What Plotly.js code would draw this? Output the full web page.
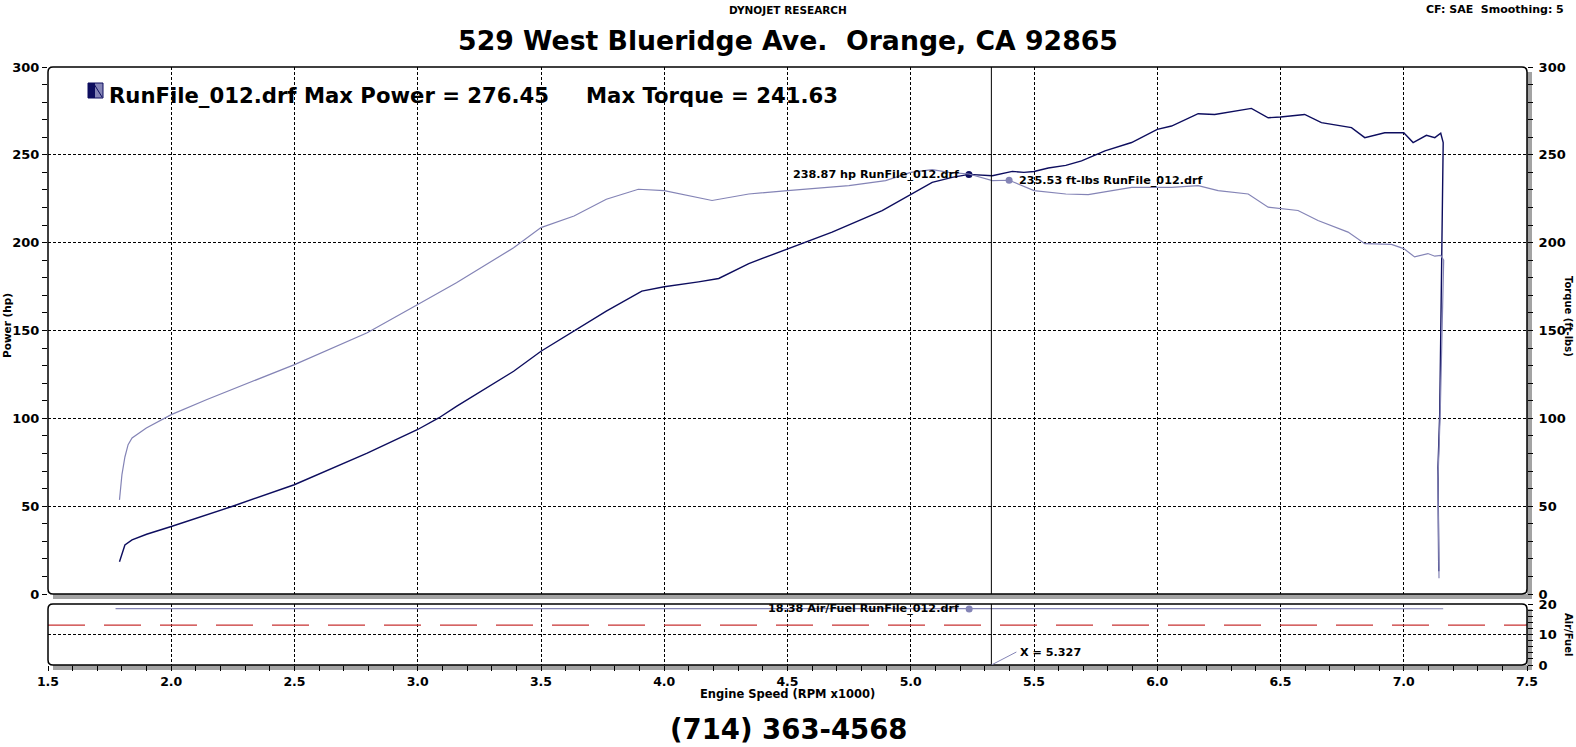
<!DOCTYPE html>
<html>
<head>
<meta charset="utf-8">
<script src="https://cdn.plot.ly/plotly-3.0.1.min.js"></script>
<style>html,body{margin:0;padding:0;background:#fff;}#chart{width:1576px;height:747px;}</style>
</head>
<body>
<div id="chart"></div>
<script>
// ---- data ----
const rpmPower = [1.790,1.812,1.841,1.900,2.000,2.246,2.499,2.795,2.998,3.085,3.157,3.389,3.500,3.634,3.765,3.909,4.000,4.139,4.221,4.343,4.500,4.681,4.884,5.000,5.087,5.168,5.236,5.331,5.412,5.459,5.500,5.558,5.629,5.693,5.788,5.896,6.000,6.058,6.166,6.233,6.382,6.450,6.500,6.598,6.666,6.788,6.842,6.923,7.000,7.038,7.092,7.126,7.150,7.160,7.158,7.153,7.146,7.139,7.140,7.142];
const powerHp = [18.4,27.9,30.8,34.0,38.4,49.8,62.2,80.2,93.5,100.2,106.8,126.8,138.2,149.6,161.0,172.4,174.9,177.7,179.6,188.1,196.6,206.0,218.3,227.7,234.3,237.2,238.87,238.1,240.6,240.0,240.5,242.5,244.0,246.6,252.3,257.0,264.5,266.4,273.4,273.0,276.45,271.1,271.5,273.0,268.3,265.5,259.8,262.6,262.6,257.0,261.1,259.8,262.3,257.0,230.0,160.0,103.0,72.0,40.0,13.0];

const rpmTorque = [1.790,1.800,1.812,1.825,1.841,1.899,2.000,2.145,2.500,2.795,3.000,3.157,3.389,3.500,3.634,3.765,3.895,3.979,4.000,4.194,4.343,4.500,4.749,4.898,5.000,5.087,5.155,5.236,5.331,5.399,5.500,5.629,5.720,5.896,6.058,6.166,6.247,6.369,6.450,6.571,6.652,6.774,6.842,6.950,7.000,7.044,7.098,7.126,7.150,7.162,7.158,7.148,7.139,7.143];
const torqueFtLbs = [53.6,68.0,78.0,85.0,88.8,94.5,102.1,110.7,130.6,148.7,164.8,177.2,197.1,208.6,215.2,224.7,230.4,229.8,229.6,224.0,227.7,229.6,232.5,235.3,240.0,241.63,240.0,239.1,235.3,235.53,229.6,227.7,227.4,231.5,231.5,232.5,229.6,227.7,220.2,218.3,212.6,206.0,199.4,199.0,196.6,191.9,193.8,192.3,192.8,190.0,160.0,103.5,66.0,9.0];

const rpmAirFuel = [1.774,2.5,3.5,4.5,5.237,6.0,7.0,7.160];
const airFuel = [18.5,18.5,18.45,18.4,18.38,18.4,18.45,18.45];

const afTargetRpm = [1.5,7.5];
const afTarget = [13.1,13.1];

const cursorX = 5.327;
const cursorPower = {rpm:5.236, value:238.87};
const cursorTorque = {rpm:5.399, value:235.53};
const cursorAF = {rpm:5.237, value:18.38};

const maxPower = 276.45, maxTorque = 241.63;
const runName = "RunFile_012.drf";

const xTicks = [1.5,2.0,2.5,3.0,3.5,4.0,4.5,5.0,5.5,6.0,6.5,7.0,7.5];

// ---- layout helpers (pixel -> paper) ----
const W = 1576, H = 747, ML = 48, MR = 49, MT = 67, MB = 82;
const PW = W - ML - MR, PH = H - MT - MB;
const px = x => (x - ML) / PW;
const py = y => (H - MB - y) / PH;

const NAVY = '#0d0d5e', LILAC = '#8484b6', RED = '#c83232', SHADOW = '#a3a3a3';
const FONT = 'DejaVu Sans';
const f = (size, extra) => Object.assign({family: FONT, size: size, color: '#000', weight: 700}, extra || {});

function roundRect(x0, y0, x1, y1, r) {
  const rx = r / PW, ry = r / PH;
  const a = px(x0), b = px(x1), t = py(y0), u = py(y1);
  return `M ${a+rx},${t} L ${b-rx},${t} Q ${b},${t} ${b},${t-ry} L ${b},${u+ry} Q ${b},${u} ${b-rx},${u} L ${a+rx},${u} Q ${a},${u} ${a},${u+ry} L ${a},${t-ry} Q ${a},${t} ${a+rx},${t} Z`;
}
function rectPx(x0, y0, x1, y1, color) {
  return {type:'rect', xref:'paper', yref:'paper', x0:px(x0), x1:px(x1), y0:py(y1), y1:py(y0), fillcolor:color, line:{width:0}, layer:'below'};
}

const mainTop = 67, mainBot = 594, lowTop = 604, lowBot = 665;

const traces = [
  {x: rpmTorque, y: torqueFtLbs, yaxis:'y2', xaxis:'x', mode:'lines', line:{color:LILAC, width:1.2}, name:'Torque'},
  {x: rpmPower, y: powerHp, yaxis:'y', xaxis:'x', mode:'lines', line:{color:NAVY, width:1.4}, name:'Power'},
  {x: afTargetRpm, y: afTarget, yaxis:'y3', xaxis:'x', mode:'lines', line:{color:RED, width:1.3, dash:'37px,19px'}, name:'Target'},
  {x: rpmAirFuel, y: airFuel, yaxis:'y3', xaxis:'x', mode:'lines', line:{color:LILAC, width:1.2}, name:'Air/Fuel'},
  {x:[cursorPower.rpm], y:[cursorPower.value], yaxis:'y', mode:'markers', marker:{color:NAVY, size:7}},
  {x:[cursorTorque.rpm], y:[cursorTorque.value], yaxis:'y2', mode:'markers', marker:{color:LILAC, size:7}},
  {x:[cursorAF.rpm], y:[cursorAF.value], yaxis:'y3', mode:'markers', marker:{color:LILAC, size:7}}
];

const gridStyle = {showgrid:true, gridcolor:'#000', gridwidth:1, griddash:'3px,2px'};

const layout = {
  width: W, height: H,
  margin: {l:ML, r:MR, t:MT, b:MB, pad:0},
  paper_bgcolor:'#fff', plot_bgcolor:'#fff',
  showlegend:false,
  title: {text:'529 West Blueridge Ave.\u00a0\u00a0Orange, CA 92865', x:0.5, xref:'container', xanchor:'center', y:1-41/H, yref:'container', yanchor:'middle', font:f(26.7)},
  xaxis: Object.assign({
    domain:[0,1], anchor:'y3', range:[1.5,7.5], tickvals:xTicks, tickformat:'.1f',
    ticks:'outside', ticklen:5, tickcolor:'#000', tickwidth:1, ticklabelstandoff:0,
    minor:{dtick:0.1, ticks:'outside', ticklen:5, tickcolor:'#000', showgrid:false},
    showline:false, zeroline:false, tickfont:f(12.5)
  }, gridStyle),
  yaxis: Object.assign({
    domain:[py(mainBot), 1], anchor:'x', range:[0,300], dtick:50, side:'left',
    ticks:'outside', ticklen:5, tickcolor:'#000',
    minor:{dtick:10, ticks:'outside', ticklen:5, tickcolor:'#000', showgrid:false},
    showline:false, zeroline:false, tickfont:f(13)
  }, gridStyle),
  yaxis2: {
    overlaying:'y', side:'right', anchor:'x', range:[0,300], dtick:50, showgrid:false,
    ticks:'outside', ticklen:5, tickcolor:'#000', ticklabelstandoff:3,
    minor:{dtick:10, ticks:'outside', ticklen:5, tickcolor:'#000', showgrid:false},
    showline:false, zeroline:false, tickfont:f(13)
  },
  yaxis3: Object.assign({
    domain:[0, py(lowTop)], anchor:'x', side:'right', range:[0,20], dtick:10,
    ticks:'outside', ticklen:5, tickcolor:'#000', ticklabelstandoff:3,
    minor:{dtick:2, ticks:'outside', ticklen:5, tickcolor:'#000', showgrid:false},
    showline:false, zeroline:false, tickfont:f(13)
  }, gridStyle),
  shapes: [
    rectPx(1527, 72, 1532, 599, SHADOW),
    rectPx(53, 594, 1532, 599, SHADOW),
    rectPx(1527, 609, 1532, 670, SHADOW),
    rectPx(53, 665, 1532, 670, SHADOW),
    {type:'path', xref:'paper', yref:'paper', path: roundRect(ML, mainTop, W-MR, mainBot, 5), line:{color:'#000', width:1.5}, layer:'above'},
    {type:'path', xref:'paper', yref:'paper', path: roundRect(ML, lowTop, W-MR, lowBot, 5), line:{color:'#000', width:1.5}, layer:'above'},
    {type:'line', xref:'x', yref:'y domain', x0:cursorX, x1:cursorX, y0:0, y1:1, line:{color:'#000', width:1}},
    {type:'line', xref:'x', yref:'y3 domain', x0:cursorX, x1:cursorX, y0:0, y1:1, line:{color:'#000', width:1}},
    {type:'line', xref:'x', yref:'y3', xsizemode:'pixel', xanchor:cursorX, x0:0, x1:25, ysizemode:'pixel', yanchor:0, y0:0, y1:13, line:{color:LILAC, width:1}},
    // legend icon
    rectPx(88, 83, 95.5, 98, NAVY),
    rectPx(95.5, 83, 103, 98, LILAC),
    {type:'line', xref:'paper', yref:'paper', x0:px(94), y0:py(84), x1:px(102), y1:py(97), line:{color:NAVY, width:1}},
    {type:'rect', xref:'paper', yref:'paper', x0:px(88), x1:px(103), y0:py(98), y1:py(83), line:{color:NAVY, width:1}}
  ],
  annotations: [
    {text:'DYNOJET RESEARCH', xref:'paper', yref:'paper', x:px(788), y:py(10), xanchor:'center', yanchor:'middle', showarrow:false, font:f(10.5)},
    {text:'CF: SAE\u00a0\u00a0Smoothing: 5', xref:'paper', yref:'paper', x:px(1566), y:py(10), xanchor:'right', yanchor:'middle', showarrow:false, font:f(11)},
    {text:'(714) 363-4568', xref:'paper', yref:'paper', x:px(788), y:py(729), xanchor:'center', yanchor:'middle', showarrow:false, font:f(27.5)},
    {text: runName + ' Max Power = ' + maxPower.toFixed(2), xref:'paper', yref:'paper', x:px(107), y:py(96), xanchor:'left', yanchor:'middle', showarrow:false, font:f(21.2)},
    {text: 'Max Torque = ' + maxTorque.toFixed(2), xref:'paper', yref:'paper', x:px(584), y:py(96), xanchor:'left', yanchor:'middle', showarrow:false, font:f(21.2)},
    {text: cursorPower.value.toFixed(2) + ' hp ' + runName, xref:'x', yref:'y', x:cursorPower.rpm, y:cursorPower.value, xanchor:'right', yanchor:'middle', xshift:-8, showarrow:false, font:f(11.2)},
    {text: cursorTorque.value.toFixed(2) + ' ft-lbs ' + runName, xref:'x', yref:'y2', x:cursorTorque.rpm, y:cursorTorque.value, xanchor:'left', yanchor:'middle', xshift:8, showarrow:false, font:f(11.2)},
    {text: cursorAF.value.toFixed(2) + ' Air/Fuel ' + runName, xref:'x', yref:'y3', x:cursorAF.rpm, y:cursorAF.value, xanchor:'right', yanchor:'middle', xshift:-8, showarrow:false, font:f(11.2)},
    {text: 'X = ' + cursorX.toFixed(3), xref:'x', yref:'y3', x:cursorX, y:0, xanchor:'left', yanchor:'middle', xshift:27, yshift:13, showarrow:false, font:f(11.2)},
    {text:'Power (hp)', xref:'paper', yref:'paper', x:px(7), y:py(326), xanchor:'center', yanchor:'middle', textangle:-90, showarrow:false, font:f(10.5)},
    {text:'Torque (ft-lbs)', xref:'paper', yref:'paper', x:px(1569), y:py(316), xanchor:'center', yanchor:'middle', textangle:90, showarrow:false, font:f(10)},
    {text:'Air/Fuel', xref:'paper', yref:'paper', x:px(1569), y:py(634), xanchor:'center', yanchor:'middle', textangle:90, showarrow:false, font:f(10)},
    {text:'Engine Speed (RPM x1000)', xref:'paper', yref:'paper', x:px(787), y:py(694), xanchor:'center', yanchor:'middle', showarrow:false, font:f(11.5)}
  ]
};

Plotly.newPlot('chart', traces, layout, {staticPlot:true, displayModeBar:false});
</script>
</body>
</html>
